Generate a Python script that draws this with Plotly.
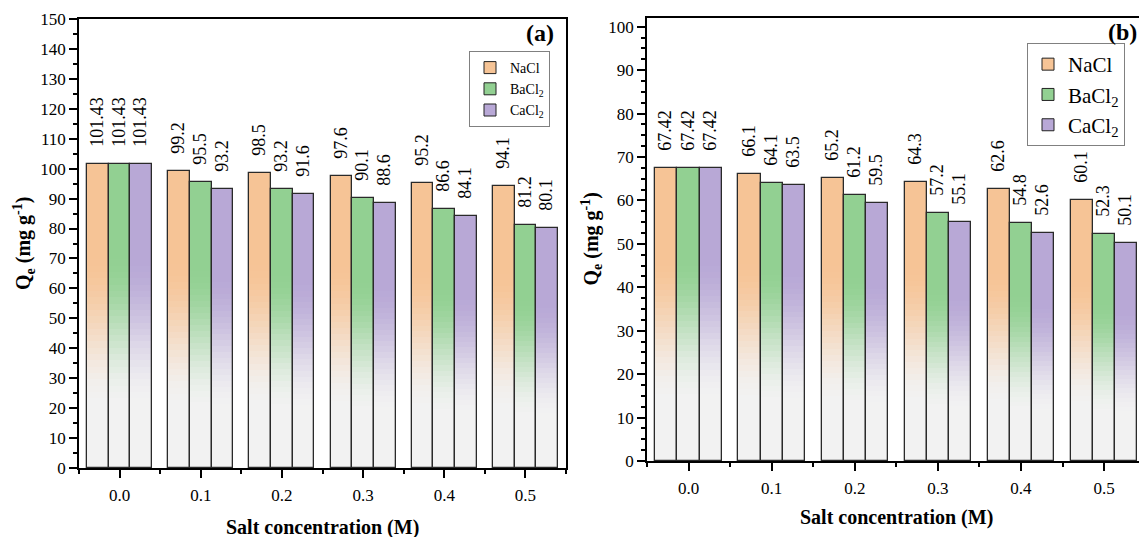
import plotly.graph_objects as go

# ---- data -------------------------------------------------------------
conc_labels = ["0.0", "0.1", "0.2", "0.3", "0.4", "0.5"]
salt_names = ["NaCl", "BaCl<sub>2</sub>", "CaCl<sub>2</sub>"]

# panel (a)
qe_a_nacl = [101.43, 99.2, 98.5, 97.6, 95.2, 94.1]
qe_a_bacl2 = [101.43, 95.5, 93.2, 90.1, 86.6, 81.2]
qe_a_cacl2 = [101.43, 93.2, 91.6, 88.6, 84.1, 80.1]

# panel (b)
qe_b_nacl = [67.42, 66.1, 65.2, 64.3, 62.6, 60.1]
qe_b_bacl2 = [67.42, 64.1, 61.2, 57.2, 54.8, 52.3]
qe_b_cacl2 = [67.42, 63.5, 59.5, 55.1, 52.6, 50.1]

# ---- style ------------------------------------------------------------
FONT = "Liberation Serif"
TOP_COLORS = [(246, 196, 150), (146, 208, 146), (184, 168, 214)]
BOTTOM_COLOR = (242, 242, 242)
N_STEPS = 48
BAR_W = 0.8 / 3
OFFSETS = [-0.4, -0.4 + BAR_W, -0.4 + 2 * BAR_W]
W, H = 1139, 537


def shade(top, f):
    """Colour of the bar gradient at relative height f (0 bottom, 1 top)."""
    s = min(max((f - 0.2) / 0.5, 0.0), 1.0)
    s = s * s * (3 - 2 * s)
    r, g, b = (BOTTOM_COLOR[i] + (top[i] - BOTTOM_COLOR[i]) * s for i in range(3))
    return f"rgb({r:.0f},{g:.0f},{b:.0f})"


fig = go.Figure()
xi = list(range(len(conc_labels)))


def add_panel(series, xa, ya, legend_name):
    for si, vals in enumerate(series):
        top = TOP_COLORS[si]
        # gradient: progressively shorter, paler bars drawn over each other
        for k in range(N_STEPS):
            frac = (N_STEPS - k) / N_STEPS
            fmid = (N_STEPS - k - 0.5) / N_STEPS
            first = k == 0
            fig.add_trace(go.Bar(
                x=xi, y=[v * frac for v in vals],
                width=BAR_W, offset=OFFSETS[si],
                marker=dict(color=shade(top, fmid),
                            line=dict(color="#222222", width=1 if first else 0)),
                name=salt_names[si], showlegend=first, legend=legend_name,
                hoverinfo="skip", xaxis=xa, yaxis=ya,
            ))
        # outline + value labels
        fig.add_trace(go.Bar(
            x=xi, y=vals, width=BAR_W, offset=OFFSETS[si],
            marker=dict(color="rgba(0,0,0,0)", line=dict(color="#2a2a2a", width=1.3)),
            text=["\u00a0" * 3 + str(v) for v in vals],
            textposition="outside", textangle=-90, constraintext="none",
            textfont=dict(family=FONT, size=18, color="black"),
            cliponaxis=False, showlegend=False, hoverinfo="skip",
            xaxis=xa, yaxis=ya,
        ))


add_panel([qe_a_nacl, qe_a_bacl2, qe_a_cacl2], "x", "y", "legend")
add_panel([qe_b_nacl, qe_b_bacl2, qe_b_cacl2], "x2", "y2", "legend2")

tickfont = dict(family=FONT, size=17, color="black")
base_x = dict(tickvals=xi, ticktext=conc_labels, ticks="outside", ticklen=8,
              tickwidth=1.5, tickcolor="black", showline=True, linewidth=1.5,
              linecolor="black", mirror=True, showgrid=False, zeroline=False,
              tickfont=tickfont, ticklabelstandoff=3, automargin=False,
              minor=dict(tickvals=[i - 0.5 for i in range(len(conc_labels) + 1)],
                         ticks="outside", ticklen=4, tickwidth=1.5, tickcolor="black"))
base_y = dict(dtick=10, ticks="outside", ticklen=8, tickwidth=1.5, tickcolor="black",
              showline=True, linewidth=1.5, linecolor="black", showgrid=False,
              zeroline=False, tickfont=tickfont, automargin=False)
frame_top = dict(side="top", range=[0, 10], dtick=2, ticks="inside", ticklen=8,
                 tickwidth=1.5, tickcolor="black", showticklabels=False,
                 showgrid=False, zeroline=False, showline=False, automargin=False,
                 minor=dict(dtick=1, ticks="inside", ticklen=4, tickwidth=1.5,
                            tickcolor="black"))
frame_right = dict(side="right", range=[0, 10], dtick=2, ticks="inside", ticklen=8,
                   tickwidth=1.5, tickcolor="black", showticklabels=False,
                   showgrid=False, zeroline=False, showline=False, automargin=False,
                   minor=dict(dtick=1, ticks="inside", ticklen=4, tickwidth=1.5,
                              tickcolor="black"))

dom_xa = [79 / W, 566 / W]
dom_ya = [(H - 468) / H, (H - 19) / H]
dom_xb = [647 / W, 1.0]
dom_yb = [(H - 461) / H, (H - 18) / H]
xb_end = -0.5 + (W - 647) / 83.1

fig.update_layout(
    width=W, height=H, margin=dict(l=0, r=0, t=0, b=0, autoexpand=False),
    paper_bgcolor="white", plot_bgcolor="white",
    barmode="overlay", bargap=0,
    xaxis=dict(base_x, domain=dom_xa, range=[-0.5, 5.5], anchor="y"),
    yaxis=dict(base_y, domain=dom_ya, range=[0, 150], anchor="x", mirror=True,
               minor=dict(dtick=5, ticks="outside", ticklen=4, tickwidth=1.5,
                          tickcolor="black")),
    xaxis2=dict(base_x, domain=dom_xb, range=[-0.5, xb_end], anchor="y2"),
    yaxis2=dict(base_y, domain=dom_yb, range=[0, 102], anchor="x2", mirror=False,
                minor=dict(dtick=2.5, ticks="outside", ticklen=4, tickwidth=1.5,
                           tickcolor="black")),
    xaxis3=dict(frame_top, overlaying="x", anchor="y"),
    yaxis3=dict(frame_right, overlaying="y", anchor="x"),
    xaxis4=dict(frame_top, overlaying="x2", anchor="y2",
                range=[0, 10 * (xb_end + 0.5) / 6]),
    yaxis4=dict(frame_right, overlaying="y2", anchor="x2", ticklen=3,
                minor=dict(ticks="")),
    legend=dict(x=469 / W, y=(H - 51) / H, xanchor="left", yanchor="top",
                bgcolor="white", bordercolor="#808080", borderwidth=1,
                font=dict(family=FONT, size=14, color="black"),
                tracegroupgap=0, itemwidth=30),
    legend2=dict(x=1027 / W, y=(H - 43) / H, xanchor="left", yanchor="top",
                 bgcolor="white", bordercolor="#808080", borderwidth=1,
                 font=dict(family=FONT, size=21, color="black"),
                 tracegroupgap=0, itemwidth=30),
)

title_font = dict(family=FONT, size=20, color="black")
annos = [
    dict(text="<b>Salt concentration (M)</b>", x=322.5 / W, y=(H - 527) / H),
    dict(text="<b>Salt concentration (M)</b>", x=896 / W, y=(H - 517) / H),
    dict(text="<b>Q<sub>e</sub> (mg g<sup>-1</sup>)</b>", x=23.5 / W,
         y=(H - 243.5) / H, textangle=-90),
    dict(text="<b>Q<sub>e</sub> (mg g<sup>-1</sup>)</b>", x=591 / W,
         y=(H - 239.5) / H, textangle=-90),
]
for a in annos:
    fig.add_annotation(xref="paper", yref="paper", showarrow=False,
                       xanchor="center", yanchor="middle", font=title_font, **a)

fig.add_annotation(text="<b>(a)</b>", xref="paper", yref="paper", x=540 / W,
                   y=(H - 33) / H, showarrow=False, xanchor="center",
                   yanchor="middle", font=dict(family=FONT, size=24, color="black"))
fig.add_annotation(text="<b>(b)</b>", xref="paper", yref="paper", x=1.0,
                   y=(H - 32) / H, showarrow=False, xanchor="right",
                   yanchor="middle", font=dict(family=FONT, size=24, color="black"))

fig.write_html("out.html")
